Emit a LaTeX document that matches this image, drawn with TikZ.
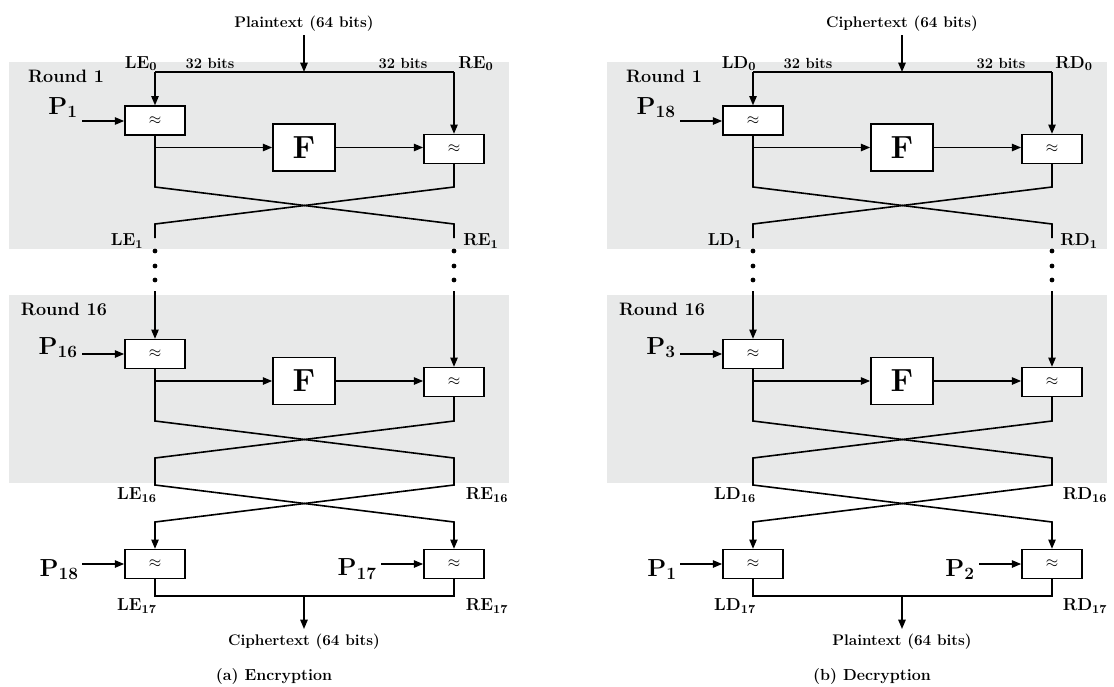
\documentclass[tikz,border=0pt]{standalone}
\usepackage{amsmath}
\usepackage{tikz}
\usetikzlibrary{arrows.meta}

\begin{document}
\begin{tikzpicture}[x=0.75pt,y=0.75pt,yscale=-1,xscale=1,
	wire/.style={line width=1.2pt},
	arr/.style={wire,-{Triangle[length=7pt,width=5.5pt]}},
	xorbox/.style={draw,fill=white,line width=1.2pt,minimum width=45pt,minimum height=21.5pt,inner sep=0pt,font=\fontsize{13}{15}\selectfont},
	fbox/.style={draw,fill=white,line width=1.2pt,minimum width=46.5pt,minimum height=35.5pt,inner sep=0pt,font=\fontsize{24}{26}\selectfont\bfseries},
	roundbg/.style={fill={rgb,255:red,232;green,233;blue,233}},
	lbl/.style={inner sep=0pt,font=\fontsize{13}{15}\selectfont\bfseries},
	rlbl/.style={inner sep=0pt,font=\fontsize{13.5}{15}\selectfont\bfseries},
	plbl/.style={inner sep=0pt,font=\fontsize{18.5}{20}\selectfont\bfseries},
	bits/.style={inner sep=0pt,font=\fontsize{11}{13}\selectfont\bfseries},
	ttl/.style={inner sep=0pt,font=\fontsize{11.5}{13}\selectfont\bfseries},
	dot/.style={circle,fill,inner sep=0pt,minimum size=3.6pt}]
\useasboundingbox (0,0) rectangle (1114,686);

\foreach \s/\dx/\intext/\outtext/\lname/\rname/\pa/\pb/\pc/\pd/\capt in {
	E/0/Plaintext/Ciphertext/LE/RE/1/16/18/17/(a) Encryption,
	D/598/Ciphertext/Plaintext/LD/RD/18/3/1/2/(b) Decryption}{
\begin{scope}[shift={(\dx,0)}]
	%Round backgrounds
	\fill[roundbg] (9,62) rectangle (509,249);
	\fill[roundbg] (9,295) rectangle (509,483);
	
	%Input
	\node[ttl] (in\s) at (304,24) {\intext{} (64 bits)};
	\coordinate (ia\s) at (304,35);
	\coordinate (tl\s) at (155,72);
	\coordinate (tr\s) at (454,72);
	\coordinate (tm\s) at (304,72);
	\draw[wire] (tl\s) -- (tr\s);
	\draw[arr] (ia\s) -- (tm\s);
	\node[lbl] (l0\s) at (141,63.5) {\lname\textsubscript{0}};
	\node[lbl] (r0\s) at (476,63.5) {\rname\textsubscript{0}};
	\node[bits] (b1\s) at (210,63.5) {32 bits};
	\node[bits] (b2\s) at (403,63.5) {32 bits};
	
	%Round 1
	\node[rlbl] (rd1\s) at (66,76) {Round 1};
	\node[xorbox] (xa\s) at (155,120.5) {$\approx$};
	\node[fbox] (fa\s) at (304,147.5) {F};
	\node[xorbox] (xb\s) at (454,149) {$\approx$};
	\node[plbl,anchor=south east] (pa\s) at (78,118) {P\textsubscript{\pa}};
	\coordinate (pai\s) at (82,121);
	\draw[arr] (pai\s) -- (pai\s -| xa\s.west);
	\draw[arr] (tl\s) -- (xa\s);
	\draw[arr] (tr\s) -- (xb\s);
	\draw[arr] (xa\s.south |- fa\s) -- (fa\s);
	\draw[arr] (fa\s) -- (fa\s -| xb\s.west);
	\draw[wire] (xa\s) -- (155,187) -- (454,224) -- (454,238);
	\draw[wire] (xb\s) -- (454,187) -- (155,224) -- (155,238);
	\node[lbl] (l1\s) at (127,241) {\lname\textsubscript{1}};
	\node[lbl] (r1\s) at (481,241) {\rname\textsubscript{1}};
	
	%Dots
	\foreach \y in {251,266,280}{
		\node[dot] at (155,\y) {};
		\node[dot] at (454,\y) {};
	}
	
	%Round 16
	\node[rlbl] (rd16\s) at (64,309) {Round 16};
	\node[xorbox] (xc\s) at (155,354) {$\approx$};
	\node[fbox] (fb\s) at (304,381) {F};
	\node[xorbox] (xd\s) at (454,382) {$\approx$};
	\node[plbl,anchor=south east] (pb\s) at (78,358) {P\textsubscript{\pb}};
	\coordinate (pbi\s) at (82,354);
	\coordinate (ul\s) at (155,291);
	\coordinate (ur\s) at (454,291);
	\draw[arr] (pbi\s) -- (xc\s);
	\draw[arr] (ul\s) -- (xc\s);
	\draw[arr] (ur\s) -- (xd\s);
	\draw[arr] (xc\s.south |- fb\s) -- (fb\s);
	\draw[arr] (fb\s) -- (fb\s -| xd\s.west);
	
	%Swap and output whitening
	\node[xorbox] (xe\s) at (155,564) {$\approx$};
	\node[xorbox] (xf\s) at (454,564) {$\approx$};
	\draw[arr] (xc\s) -- (155,421) -- (454,458) -- (454,485) -- (155,522) -- (xe\s);
	\draw[arr] (xd\s) -- (454,421) -- (155,458) -- (155,485) -- (454,522) -- (xf\s);
	\node[lbl] (l16\s) at (137,495) {\lname\textsubscript{16}};
	\node[lbl] (r16\s) at (487,495) {\rname\textsubscript{16}};
	\node[plbl,anchor=south east] (pc\s) at (79,580) {P\textsubscript{\pc}};
	\node[plbl,anchor=south east] (pd\s) at (377,580) {P\textsubscript{\pd}};
	\coordinate (pci\s) at (82,564);
	\coordinate (pdi\s) at (381,564);
	\draw[arr] (pci\s) -- (xe\s);
	\draw[arr] (pdi\s) -- (xf\s);
	
	%Output
	\coordinate (bm\s) at (304,596);
	\coordinate (oa\s) at (304,629);
	\draw[wire] (xe\s) -- (155,596) -- (454,596) -- (xf\s);
	\draw[arr] (bm\s) -- (oa\s);
	\node[ttl] (out\s) at (304,642) {\outtext{} (64 bits)};
	\node[lbl] (l17\s) at (137,606) {\lname\textsubscript{17}};
	\node[lbl] (r17\s) at (487,606) {\rname\textsubscript{17}};
	\node[ttl,font=\fontsize{12}{14}\selectfont\bfseries] (cap\s) at (274,676) {\capt};
\end{scope}
}

\end{tikzpicture}
\end{document}
